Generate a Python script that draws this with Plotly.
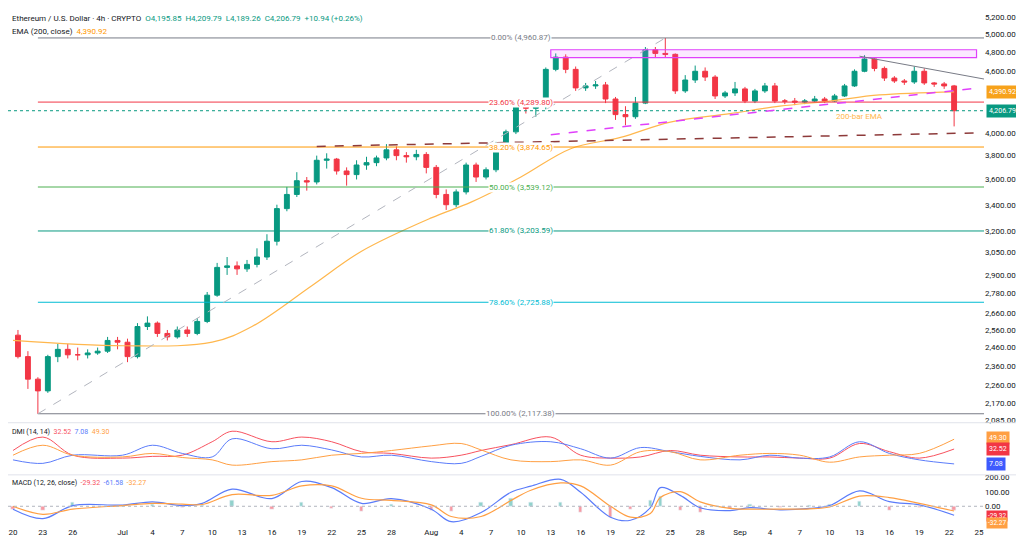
import plotly.graph_objects as go
import pandas as pd
import math

# ---------------- DATA ----------------
dates = pd.date_range("2025-06-20", "2025-09-22", freq="D") + pd.Timedelta(hours=12)
opens = [2530,2410,2290,2230,2410,2450,2420,2420,2430,2440,2500,
         2490,2410,2580,2600,2540,2520,2560,2540,2610,2770,2950,2960,2940,2970,3020,3130,3370,3480,3590,3580,3760,3770,3670,3640,3720,3740,3780,3850,3800,3790,3810,
         3700,3480,3400,3500,3720,3620,3680,3900,4010,4250,4230,4250,4620,4750,4620,4430,4450,4460,4320,4170,4150,4280,4830,4790,4780,4400,4510,4600,4540,4350,4380,
         4420,4300,4400,4450,4300,4300,4290,4300,4320,4300,4350,4450,4600,4730,4630,4530,4500,4490,4600,4480,4470,4450]
highs = [2560,2440,2300,2420,2480,2480,2460,2450,2460,2520,2520,
         2510,2600,2640,2610,2560,2580,2580,2630,2790,2980,3020,2990,3000,3080,3180,3400,3540,3660,3620,3800,3820,3780,3700,3760,3790,3800,3900,3880,3830,3850,3830,
         3720,3520,3520,3740,3740,3700,3920,4030,4280,4300,4320,4640,4790,4780,4650,4480,4500,4490,4340,4250,4340,4860,4860,4960,4790,4560,4660,4640,4560,4400,4490,
         4440,4420,4480,4480,4320,4330,4320,4350,4340,4370,4470,4620,4770,4740,4650,4550,4520,4650,4630,4490,4490,4460]
lows = [2400,2240,2117,2220,2380,2400,2390,2400,2420,2430,2450,
        2380,2400,2560,2520,2500,2510,2520,2530,2600,2760,2900,2900,2920,2950,3000,3100,3350,3460,3510,3560,3690,3640,3550,3600,3680,3710,3760,3760,3740,3760,3650,
        3450,3360,3380,3480,3580,3600,3660,3880,3990,4180,4150,4220,4600,4580,4400,4400,4420,4280,4120,4070,4130,4270,4740,4750,4370,4380,4480,4500,4320,4330,4350,
        4280,4280,4380,4280,4270,4260,4270,4290,4280,4290,4340,4440,4590,4600,4500,4480,4460,4470,4460,4440,4420,4060]
closes = [2410,2290,2230,2410,2450,2420,2420,2430,2440,2500,2490,
          2410,2580,2600,2540,2520,2560,2540,2610,2770,2950,2960,2940,2970,3020,3130,3370,3480,3590,3580,3760,3770,3670,3640,3720,3740,3780,3850,3800,3790,3810,3700,
          3480,3400,3500,3720,3620,3680,3900,4010,4250,4230,4250,4620,4750,4620,4430,4450,4460,4320,4170,4150,4280,4830,4790,4780,4400,4510,4600,4540,4350,4380,4420,
          4300,4400,4450,4300,4300,4290,4300,4320,4300,4350,4450,4600,4730,4630,4530,4500,4490,4600,4480,4470,4450,4206.79]

ema_dates = ["2025-06-20","2025-07-01","2025-07-10","2025-07-14","2025-07-20","2025-07-25","2025-08-01",
             "2025-08-05","2025-08-10","2025-08-15","2025-08-20","2025-08-25","2025-08-31","2025-09-05",
             "2025-09-10","2025-09-15","2025-09-22 12:00"]
ema_vals = [2500,2470,2490,2580,2830,3060,3300,3420,3620,3860,3960,4100,4180,4250,4300,4360,4391]

dmi_dates = ["2025-06-20","2025-06-23","2025-06-26","2025-07-01","2025-07-04","2025-07-07","2025-07-10","2025-07-12",
             "2025-07-16","2025-07-19","2025-07-22","2025-07-25","2025-07-28","2025-08-01","2025-08-04","2025-08-06",
             "2025-08-09","2025-08-13","2025-08-16","2025-08-19","2025-08-22","2025-08-25","2025-08-28","2025-09-01",
             "2025-09-04","2025-09-07","2025-09-10","2025-09-13","2025-09-16","2025-09-19","2025-09-22 12:00"]
dmi_red = [30,53,22,17,20,22,45,63,45,53,45,28,25,17,22,30,40,53,22,17,19,30,22,19,19,17,17,42,28,17,32.52]
dmi_blue = [14,8,22,22,39,25,19,50,33,39,31,19,22,11,8,20,39,45,33,17,35,28,20,14,22,17,19,45,25,14,7.08]
dmi_orange = [22,39,22,19,25,18,14,5,11,14,22,25,30,38,42,31,14,11,14,5,28,28,14,22,25,22,10,19,22,25,49.30]

macd_dates = ["2025-06-20","2025-06-23","2025-06-26","2025-07-01","2025-07-04","2025-07-07","2025-07-09","2025-07-12",
              "2025-07-16","2025-07-19","2025-07-22","2025-07-25","2025-07-28","2025-08-01","2025-08-03","2025-08-06",
              "2025-08-09","2025-08-11","2025-08-14","2025-08-16","2025-08-19","2025-08-21","2025-08-23","2025-08-24",
              "2025-08-26","2025-08-28","2025-08-31","2025-09-02","2025-09-05","2025-09-08","2025-09-10","2025-09-13",
              "2025-09-16","2025-09-19","2025-09-22 12:00"]
macd_line = [-20,-85,5,8,30,5,20,117,53,170,128,20,53,-20,-106,-43,96,138,185,96,-75,-96,-10,128,75,-10,-30,-10,-25,-15,5,106,32,10,-61.58]
signal_line = [0,-55,-20,5,20,15,12,80,75,140,140,55,40,10,-70,-70,40,110,160,140,0,-75,-50,60,100,30,-15,-20,-20,-18,-5,70,60,20,-32.27]

fib_levels = [4960.87, 4289.80, 3874.65, 3539.12, 3203.59, 2725.88, 2117.38]
fib_labels = ["0.00% (4,960.87)", "23.60% (4,289.80)", "38.20% (3,874.65)", "50.00% (3,539.12)",
              "61.80% (3,203.59)", "78.60% (2,725.88)", "100.00% (2,117.38)"]
fib_colors = ["#787b86", "#f23645", "#ff9800", "#4caf50", "#089981", "#00bcd4", "#787b86"]

price_ticks = [5200,5000,4800,4600,4000,3800,3600,3400,3200,3050,2900,2780,2660,2560,2460,2360,2260,2170,2085]
tick_dates = ["2025-06-20","2025-06-23","2025-06-26","2025-07-01","2025-07-04","2025-07-07","2025-07-10","2025-07-13",
              "2025-07-16","2025-07-19","2025-07-22","2025-07-25","2025-07-28","2025-08-01","2025-08-04","2025-08-07",
              "2025-08-10","2025-08-13","2025-08-16","2025-08-19","2025-08-22","2025-08-25","2025-08-28","2025-09-01",
              "2025-09-04","2025-09-07","2025-09-10","2025-09-13","2025-09-16","2025-09-19","2025-09-22","2025-09-25"]
tick_text = ["20","23","26","Jul","4","7","10","13","16","19","22","25","28","Aug","4","7","10","13","16","19","22",
             "25","28","Sep","4","7","10","13","16","19","22","25"]

GREEN, RED = "#089981", "#f23645"
FONT = "Roboto"

fig = go.Figure()
fig.add_trace(go.Candlestick(x=dates, open=opens, high=highs, low=lows, close=closes,
                             increasing=dict(line=dict(color=GREEN, width=1), fillcolor=GREEN),
                             decreasing=dict(line=dict(color=RED, width=1), fillcolor=RED),
                             whiskerwidth=0, xaxis="x", yaxis="y", showlegend=False))
fig.add_trace(go.Scatter(x=ema_dates, y=ema_vals, mode="lines", line=dict(color="#ffb74d", width=1.2, shape="spline"),
                         xaxis="x", yaxis="y", showlegend=False))

x0, x1 = "2025-06-19 12:00", "2025-09-25 12:00"
xfib0 = "2025-06-22 12:00"
for lvl, lab, col in zip(fib_levels, fib_labels, fib_colors):
    fig.add_shape(type="line", xref="x", yref="y", x0=xfib0, x1=x1, y0=lvl, y1=lvl, line=dict(color=col, width=1))
    fig.add_annotation(xref="x", yref="y", x="2025-08-10", y=math.log10(lvl), text=lab, showarrow=False,
                       font=dict(size=8, color=col, family=FONT), bgcolor="white", borderpad=0)
fig.add_shape(type="line", xref="x", yref="y", x0=x0, x1=x1, y0=closes[-1], y1=closes[-1],
              line=dict(color=GREEN, width=1, dash="dot"))
fig.add_shape(type="line", xref="x", yref="y", x0="2025-06-22 12:00", y0=2117.38, x1="2025-08-24 12:00", y1=4960.87,
              line=dict(color="#b2b5be", width=1, dash="dash"))
fig.add_shape(type="rect", xref="x", yref="y", x0="2025-08-13", x1="2025-09-24 18:00", y0=4745, y1=4830,
              line=dict(color="#e040fb", width=1.2), fillcolor="rgba(224,64,251,0.12)")
fig.add_shape(type="line", xref="x", yref="y", x0="2025-08-13", y0=3985, x1="2025-09-24 12:00", y1=4425,
              line=dict(color="#e040fb", width=1.5, dash="dash"))
fig.add_shape(type="line", xref="x", yref="y", x0="2025-07-20 12:00", y0=3880, x1="2025-09-24 12:00", y1=4000,
              line=dict(color="#8d3a3a", width=1.5, dash="dash"))
fig.add_shape(type="line", xref="x", yref="y", x0="2025-09-13", y0=4760, x1="2025-09-25 12:00", y1=4520,
              line=dict(color="#787b86", width=1))
fig.add_annotation(xref="x", yref="y", x="2025-09-13", y=math.log10(4150), text="200-bar EMA",
                   showarrow=False, font=dict(size=8, color="#ffb74d", family=FONT))

for vals, col in [(dmi_red, "#f7525f"), (dmi_blue, "#5b7cfa"), (dmi_orange, "#ff9f43")]:
    fig.add_trace(go.Scatter(x=dmi_dates, y=vals, mode="lines", line=dict(color=col, width=1, shape="spline"),
                             xaxis="x2", yaxis="y2", showlegend=False))
hist = [m - s for m, s in zip(macd_line, signal_line)]
fig.add_trace(go.Bar(x=macd_dates, y=hist, marker_color=["rgba(38,166,154,0.5)" if h >= 0 else "rgba(242,54,69,0.5)" for h in hist],
                     width=8*3600*1000, xaxis="x3", yaxis="y3", showlegend=False))
fig.add_trace(go.Scatter(x=macd_dates, y=macd_line, mode="lines", line=dict(color="#5b7cfa", width=1.2, shape="spline"),
                         xaxis="x3", yaxis="y3", showlegend=False))
fig.add_trace(go.Scatter(x=macd_dates, y=signal_line, mode="lines", line=dict(color="#ff9f43", width=1.2, shape="spline"),
                         xaxis="x3", yaxis="y3", showlegend=False))
fig.add_shape(type="line", xref="x3", yref="y3", x0=x0, x1=x1, y0=0, y1=0, line=dict(color="#b2b5be", width=1, dash="dot"))

axcommon = dict(showgrid=False, zeroline=False, showline=False, tickfont=dict(size=8, color="#131722", family=FONT))
fig.update_layout(
    width=1024, height=538, paper_bgcolor="white", plot_bgcolor="white",
    margin=dict(l=0, r=48, t=0, b=18),
    xaxis=dict(domain=[0, 1], anchor="y", range=[x0, x1], showticklabels=False, rangeslider=dict(visible=False),
               showgrid=False, zeroline=False, showline=False),
    xaxis2=dict(domain=[0, 1], anchor="y2", matches="x", showticklabels=False, showgrid=False, zeroline=False),
    xaxis3=dict(domain=[0, 1], anchor="y3", matches="x", tickvals=tick_dates, ticktext=tick_text, ticks="", **axcommon),
    yaxis=dict(domain=[0.208, 0.99], type="log", side="right", range=[3.319, 3.716], tickvals=price_ticks,
               ticktext=[f"{v:,.2f}" for v in price_ticks], ticks="", **axcommon),
    yaxis2=dict(domain=[0.106, 0.2], side="right", range=[-9, 74], tickvals=[], **axcommon),
    yaxis3=dict(domain=[0.004, 0.1], side="right", range=[-135, 205], tickvals=[200, 100, 0],
                ticktext=["200.00", "100.00", "0.00"], ticks="", **axcommon),
    bargap=0,
)
for yy in [0.204, 0.103]:
    fig.add_shape(type="line", xref="paper", yref="paper", x0=0, x1=1.05, y0=yy, y1=yy, line=dict(color="#e0e3eb", width=1))

fig.add_annotation(xref="paper", yref="paper", x=0.002, y=1.0, xanchor="left", yanchor="top", showarrow=False, align="left",
                   text="Ethereum / U.S. Dollar · 4h · CRYPTO  <span style='color:#089981'>O4,195.85  H4,209.79  L4,189.26  C4,206.79  +10.94 (+0.26%)</span>",
                   font=dict(size=8, color="#131722", family=FONT))
fig.add_annotation(xref="paper", yref="paper", x=0.002, y=0.975, xanchor="left", yanchor="top", showarrow=False,
                   text="EMA (200, close)  <span style='color:#ff9800'>4,390.92</span>", font=dict(size=8, color="#131722", family=FONT))
fig.add_annotation(xref="paper", yref="paper", x=0.002, y=0.198, xanchor="left", yanchor="top", showarrow=False,
                   text="DMI (14, 14)  <span style='color:#f7525f'>32.52</span>  <span style='color:#5b7cfa'>7.08</span>  <span style='color:#ff9f43'>49.30</span>",
                   font=dict(size=7, color="#131722", family=FONT))
fig.add_annotation(xref="paper", yref="paper", x=0.002, y=0.098, xanchor="left", yanchor="top", showarrow=False,
                   text="MACD (12, 26, close)  <span style='color:#f7525f'>-29.32</span>  <span style='color:#5b7cfa'>-61.58</span>  <span style='color:#ff9f43'>-32.27</span>",
                   font=dict(size=7, color="#131722", family=FONT))

def box(yref, y, text, bg, size=7):
    fig.add_annotation(xref="paper", yref=yref, x=1, y=y, xanchor="left", xshift=2, showarrow=False, text=text,
                       bgcolor=bg, font=dict(size=size, color="white", family=FONT), borderpad=2 if size >= 7 else 1)
box("y", math.log10(4390.92), "4,390.92", "#f7a21b")
box("y", math.log10(4206.79), "4,206.79", GREEN)
box("y2", 52, "49.30", "#ff9f43")
box("y2", 32.52, "32.52", "#f23645")
box("y2", 7.08, "7.08", "#3d5afe")
box("y3", -68, "-29.32", "#f23645", 6.5)
box("y3", -118, "-32.27", "#ff9f43", 6.5)

fig.write_html("out.html")
